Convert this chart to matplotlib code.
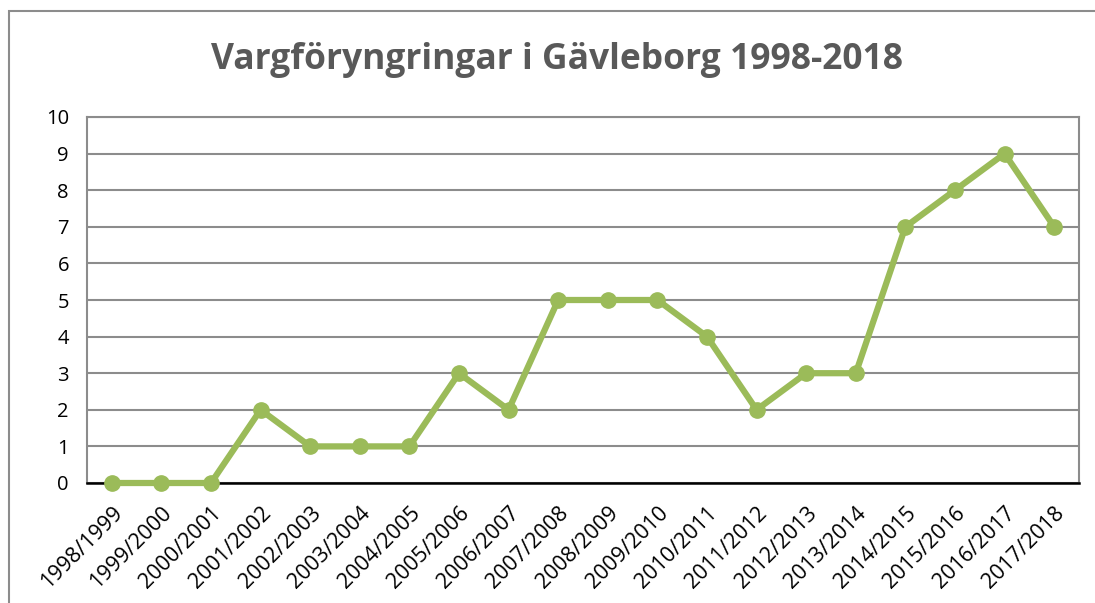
import matplotlib.pyplot as plt
from matplotlib.patches import Rectangle

seasons = ['1998/1999', '1999/2000', '2000/2001', '2001/2002', '2002/2003',
           '2003/2004', '2004/2005', '2005/2006', '2006/2007', '2007/2008',
           '2008/2009', '2009/2010', '2010/2011', '2011/2012', '2012/2013',
           '2013/2014', '2014/2015', '2015/2016', '2016/2017', '2017/2018']
foryngringar = [0, 0, 0, 2, 1, 1, 1, 3, 2, 5, 5, 5, 4, 2, 3, 3, 7, 8, 9, 7]
title = 'Vargföryngringar i Gävleborg 1998-2018'

plt.rcParams['font.family'] = ['Open Sans', 'DejaVu Sans']

W, H = 1095, 603
fig = plt.figure(figsize=(W / 100, H / 100), dpi=100)
ax = fig.add_axes([87 / W, 1 - 483 / H, (1079 - 87) / W, (483 - 117) / H])

# outer chart frame (only left and top visible in the crop)
fig.patches.append(Rectangle((9 / W, -0.1), 1.2, 1 - 11 / H + 0.1,
                             transform=fig.transFigure, fill=False,
                             edgecolor='#8c8c8c', linewidth=1.5))

x = list(range(len(seasons)))
ax.plot(x, foryngringar, color='#9BBB59', linewidth=4.5, marker='o',
        markersize=11, zorder=3, clip_on=False)

ax.set_xlim(-0.5, len(seasons) - 0.5)
ax.set_ylim(0, 10)
ax.set_yticks(range(0, 11))
ax.yaxis.grid(True, color='#8c8c8c', linewidth=1.5)
ax.set_axisbelow(True)
ax.set_xticks(x)
ax.set_xticklabels(seasons, rotation=45, ha='right', rotation_mode='anchor',
                   fontsize=15.5)
ax.tick_params(axis='y', labelsize=14.5, length=0, pad=13)
ax.tick_params(axis='x', length=0, pad=14)

for s in ['left', 'right', 'top']:
    ax.spines[s].set_color('#8c8c8c')
    ax.spines[s].set_linewidth(1.5)
ax.spines['bottom'].set_color('black')
ax.spines['bottom'].set_linewidth(1.8)

fig.text(557 / W, 1 - 60 / H, title, ha='center', va='center',
         fontsize=25.5, fontweight='bold', color='#595959')

fig.savefig('out.png', dpi=100)
